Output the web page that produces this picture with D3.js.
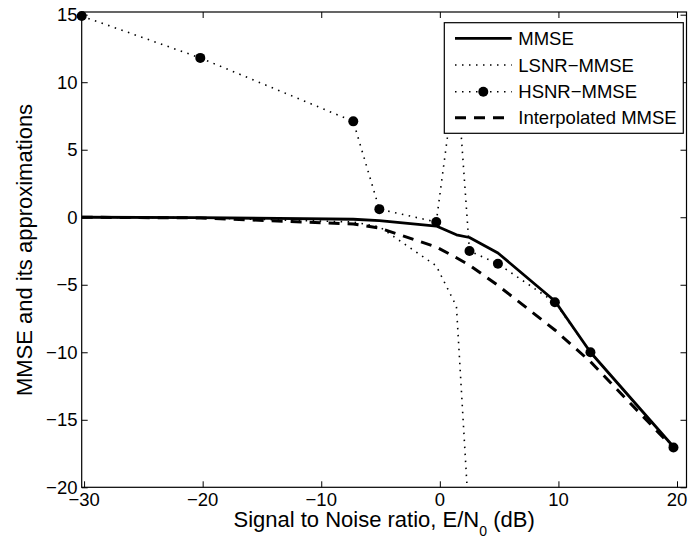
<!DOCTYPE html>
<html>
<head>
<meta charset="utf-8">
<script src="https://cdn.jsdelivr.net/npm/d3@7"></script>
<style>
  body { margin: 0; background: #fff; }
  svg { display: block; font-family: "Liberation Sans", Arial, sans-serif; }
</style>
</head>
<body>
<svg id="chart" width="689" height="548"></svg>
<script>
// SNR grid (dB) shared by all curves
const snr = [-30.2, -20.2, -7.3, -5.1, -0.3, 1.4, 2.5, 4.9, 9.7, 12.7, 19.7];
const mmse = [0.0, -0.03, -0.15, -0.25, -0.65, -1.3, -1.5, -2.65, -6.2, -10.0, -17.0];
const lsnrMmse = [0.0, -0.04, -0.35, -0.7, -3.6, -6.6, -23.0]; // only first 7 points exist
const hsnrMmse = [14.9, 11.8, 7.1, 0.6, -0.35, 11.0, -2.5, -3.45, -6.3, -10.0, -17.05];
const interpMmse = [0.0, -0.05, -0.5, -0.8, -2.2, -3.0, -3.55, -5.05, -8.35, -10.7, -17.1];

const xTicks = [-30, -20, -10, 0, 10, 20];
const yTicks = [-20, -15, -10, -5, 0, 5, 10, 15];
const legendLabels = ['MMSE', 'LSNR\u2212MMSE', 'HSNR\u2212MMSE', 'Interpolated MMSE'];

const svg = d3.select('#chart');
const plotL = 81.7, plotR = 686.5, plotT = 12, plotB = 487.3;

const x = d3.scaleLinear().domain([-30.2, 20.8]).range([plotL, plotR]);
const y = d3.scaleLinear().domain([-20, 15.2]).range([plotB, plotT]);

const fmt = (d) => (d < 0 ? '\u2212' + Math.abs(d) : String(d));

svg.append('defs').append('clipPath').attr('id', 'plotclip')
    .append('rect')
    .attr('x', plotL).attr('y', plotT)
    .attr('width', plotR - plotL).attr('height', plotB - plotT);

// axes box
svg.append('rect')
    .attr('x', plotL).attr('y', plotT)
    .attr('width', plotR - plotL).attr('height', plotB - plotT)
    .attr('fill', 'none').attr('stroke', '#000').attr('stroke-width', 1.2);

// inward ticks on all four sides
const tickLen = 6;
const xAxisB = d3.axisTop(x).tickValues(xTicks).tickSize(tickLen).tickFormat('');
const xAxisT = d3.axisBottom(x).tickValues(xTicks).tickSize(tickLen).tickFormat('');
const yAxisL = d3.axisRight(y).tickValues(yTicks).tickSize(tickLen).tickFormat('');
const yAxisR = d3.axisLeft(y).tickValues(yTicks).tickSize(tickLen).tickFormat('');

[[xAxisB, `translate(0,${plotB})`], [xAxisT, `translate(0,${plotT})`],
 [yAxisL, `translate(${plotL},0)`], [yAxisR, `translate(${plotR},0)`]].forEach(([ax, tr]) => {
    const g = svg.append('g').attr('transform', tr).call(ax);
    g.select('.domain').remove();
    g.selectAll('line').attr('stroke', '#000').attr('stroke-width', 1);
});

// tick labels
svg.append('g').selectAll('text')
    .data(xTicks).enter().append('text')
    .attr('x', (d) => x(d)).attr('y', 506)
    .attr('text-anchor', 'middle')
    .attr('font-size', 18.5)
    .text(fmt);

svg.append('g').selectAll('text')
    .data(yTicks).enter().append('text')
    .attr('x', 77.5).attr('y', (d) => y(d) + 6.5)
    .attr('text-anchor', 'end')
    .attr('font-size', 18.5)
    .text(fmt);

// axis labels
const xl = svg.append('text')
    .attr('x', (plotL + plotR) / 2).attr('y', 526.5)
    .attr('text-anchor', 'middle')
    .attr('font-size', 22);
xl.append('tspan').text('Signal to Noise ratio, E/N');
xl.append('tspan').attr('font-size', 14).attr('dy', 9).text('0');
xl.append('tspan').attr('dy', -9).text(' (dB)');

svg.append('text')
    .attr('transform', 'translate(32,250) rotate(-90)')
    .attr('text-anchor', 'middle')
    .attr('font-size', 22)
    .text('MMSE and its approximations');

// curves
const line = d3.line().x((d) => x(d[0])).y((d) => y(d[1]));
const plot = svg.append('g').attr('clip-path', 'url(#plotclip)');

const styles = {
    solid: { w: 2.8, dash: null },
    dotted: { w: 1.6, dash: '1.5,5.5' },
    dashed: { w: 3, dash: '11,8' }
};

function drawLine(g, pts, st) {
    g.append('path')
        .datum(pts)
        .attr('d', line)
        .attr('fill', 'none')
        .attr('stroke', '#000')
        .attr('stroke-width', st.w)
        .attr('stroke-dasharray', st.dash)
        .attr('stroke-linejoin', 'round');
}

drawLine(plot, snr.map((s, i) => [s, mmse[i]]), styles.solid);
drawLine(plot, lsnrMmse.map((v, i) => [snr[i], v]), styles.dotted);
drawLine(plot, snr.map((s, i) => [s, hsnrMmse[i]]), styles.dotted);
drawLine(plot, snr.map((s, i) => [s, interpMmse[i]]), styles.dashed);

svg.append('g').selectAll('circle')
    .data(snr.map((s, i) => [s, hsnrMmse[i]]))
    .enter().append('circle')
    .attr('cx', (d) => x(d[0])).attr('cy', (d) => y(d[1]))
    .attr('r', 5).attr('fill', '#000');

// legend
const lg = svg.append('g');
lg.append('rect')
    .attr('x', 444.3).attr('y', 22.7)
    .attr('width', 239).attr('height', 110.6)
    .attr('fill', '#fff').attr('stroke', '#000').attr('stroke-width', 1.2);

const legendStyles = [styles.solid, styles.dotted, styles.dotted, styles.dashed];
const legendY = [38.3, 65, 91.7, 117.7];
legendLabels.forEach((lab, i) => {
    const yy = legendY[i];
    lg.append('line')
        .attr('x1', 455).attr('x2', 511.7).attr('y1', yy).attr('y2', yy)
        .attr('stroke', '#000')
        .attr('stroke-width', legendStyles[i].w)
        .attr('stroke-dasharray', legendStyles[i].dash);
    if (i === 2) {
        lg.append('circle').attr('cx', 483.3).attr('cy', yy).attr('r', 5).attr('fill', '#000');
    }
    lg.append('text')
        .attr('x', 518.3).attr('y', yy + 6.5)
        .attr('font-size', 18.5)
        .text(lab);
});
</script>
</body>
</html>
